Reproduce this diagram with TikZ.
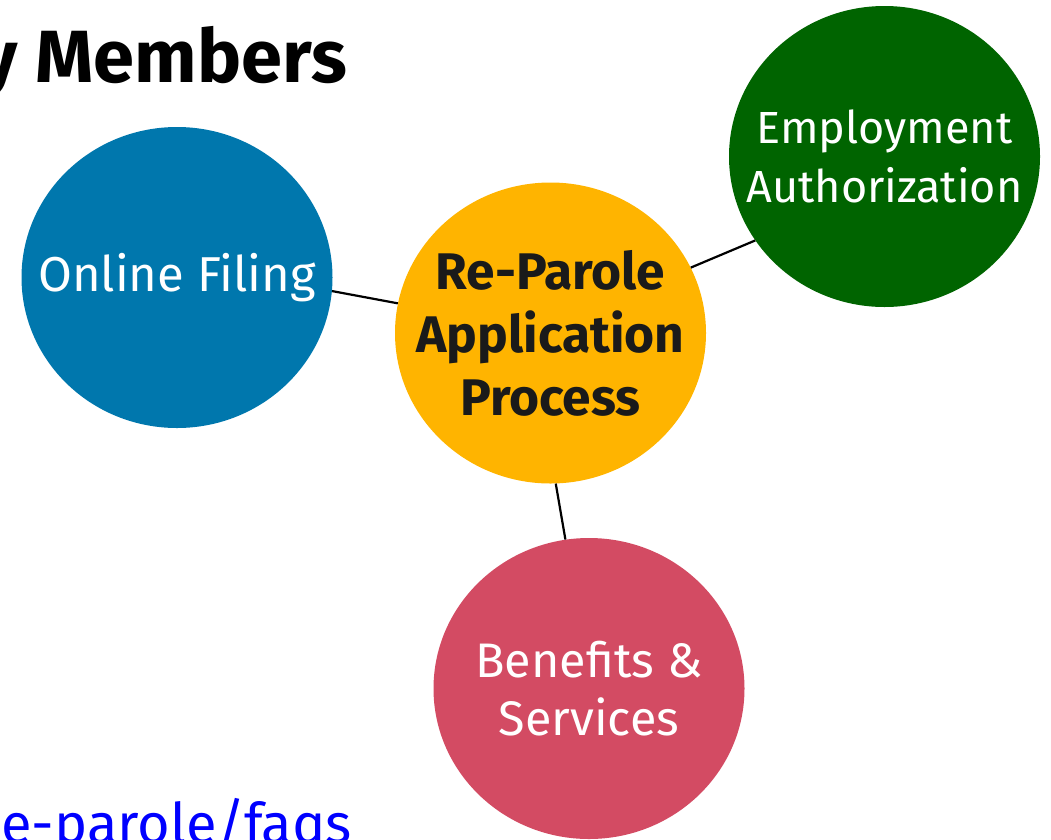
\documentclass[tikz,border=0pt]{standalone}
\usepackage{fontspec}
\setmainfont{Fira Sans}
\usetikzlibrary{shapes.geometric}

\definecolor{filingblue}{HTML}{0077AD}
\definecolor{hubyellow}{HTML}{FFB400}
\definecolor{workgreen}{HTML}{006400}
\definecolor{benefitred}{HTML}{D34B63}
\definecolor{hubtext}{HTML}{1A1A1A}
\definecolor{linkblue}{HTML}{0000FF}

\begin{document}
\begin{tikzpicture}[x=1pt, y=-1pt,
      topic/.style = {ellipse, minimum width=311pt, minimum height=301pt,
                      inner sep=0pt},
      topic text/.style = {text=white, align=center, inner sep=0pt},
      link/.style = {line width=2.2pt},
    ]
    \useasboundingbox (0,0) rectangle (1051,839);

    %% Slide title and link, cut by the frame
    \node [anchor=base east, inner sep=0pt,
           font=\bfseries\fontsize{74}{80}\selectfont] (title) at (347,82)
      {y Members};
    \node [anchor=base east, inner sep=0pt, text=linkblue,
           font=\fontsize{56}{60}\selectfont] (url) at (352,843)
      {e-parole/faqs};

    %% The process and its three parts
    \node [topic, fill=hubyellow,
           label={[topic text, text=hubtext,
                   font=\bfseries\fontsize{51.5}{63}\selectfont]center:%
                  Re-Parole\\Application\\Process}]
      (process) at (550.5,333) {};
    \node [topic, fill=filingblue,
           label={[topic text, font=\fontsize{49}{58}\selectfont]center:%
                  Online Filing}]
      (filing) at (177,277.5) {};
    \node [topic, fill=workgreen,
           label={[topic text, font=\fontsize{45}{59}\selectfont]center:%
                  Employment\\Authorization}]
      (work) at (884.5,156.5) {};
    \node [topic, fill=benefitred,
           label={[topic text, font=\fontsize{48.5}{58}\selectfont]center:%
                  Benefits \&\\Services}]
      (benefits) at (589,688.5) {};

    %% Connect the parts to the process
    \draw [link] (filing.-5.7) -- (process.169);
    \draw [link] (process.25.5) -- (work.213.3);
    \draw [link] (process.272.5) -- (benefits.99.2);
  \end{tikzpicture}
\end{document}
